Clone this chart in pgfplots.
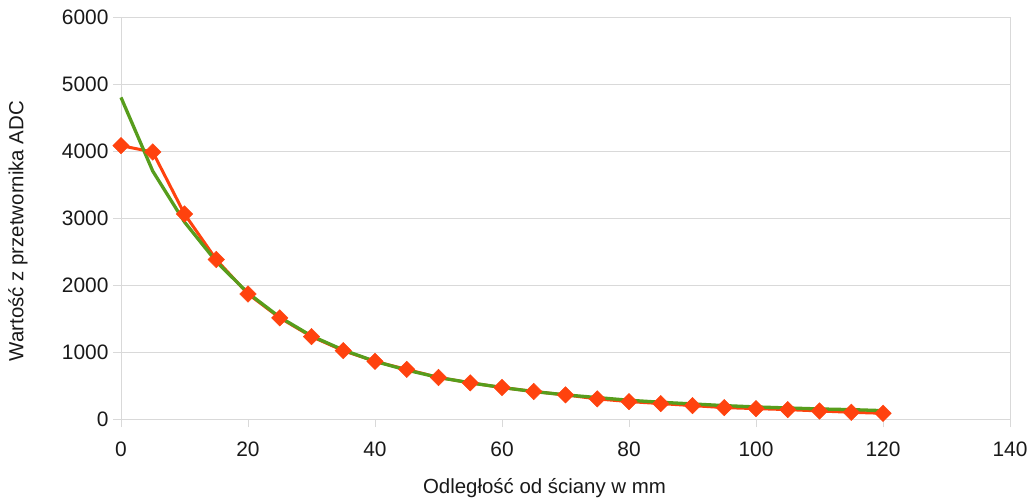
\documentclass[border=0pt]{standalone}
\usepackage{fontspec}
\setmainfont{Liberation Sans}
\usepackage{pgfplots}
\pgfplotsset{compat=1.18}
\definecolor{sorange}{HTML}{FF420E}
\definecolor{sgreen}{HTML}{579D1C}
\definecolor{gridgray}{HTML}{D9D9D9}
\begin{document}
\begin{tikzpicture}
\begin{axis}[
  scale only axis,
  width=889bp, height=402bp,
  xmin=0, xmax=140, ymin=0, ymax=6000,
  xtick={0,20,...,140}, ytick={0,1000,...,6000},
  tick pos=left,
  /pgf/number format/assume math mode=true,
  /pgf/number format/1000 sep={},
  tick label style={font=\fontsize{21}{24}\selectfont, text=black!90},
  xticklabel style={yshift=-11bp},
  yticklabel style={xshift=-1bp},
  tick align=outside,
  major tick length=8bp,
  tick style={gridgray, line width=1pt},
  axis line style={gridgray, line width=1pt},
  ymajorgrids, grid style={gridgray, line width=1pt},
  xlabel={Odległość od ściany w mm},
  ylabel={Wartość z przetwornika ADC},
  label style={font=\fontsize{20.5}{24}\selectfont, text=black!90},
  xlabel style={at={(axis description cs:0.5,0)}, anchor=center, yshift=-69bp, xshift=-21bp},
  ylabel style={at={(axis description cs:0,0.5)}, anchor=center, xshift=-13bp, yshift=103bp},
  clip=false,
]
\addplot[color=sorange, line width=3bp, mark=square*, mark size=5.8bp,
  mark options={rotate=45, fill=sorange, draw=sorange, line width=0.5bp}]
coordinates {
(0,4080) (5,3985) (10,3060) (15,2380) (20,1866) (25,1510) (30,1230)
(35,1020) (40,860) (45,740) (50,620) (55,540) (60,470) (65,410)
(70,360) (75,300) (80,260) (85,230) (90,200) (95,170) (100,155)
(105,140) (110,120) (115,100) (120,85)
};
\addplot[color=sgreen, line width=3.3bp, no marks]
coordinates {
(0,4800) (5,3700) (10,2940) (15,2350) (20,1880) (25,1520) (30,1240)
(35,1030) (40,860) (45,730) (50,620) (55,540) (60,470) (65,410)
(70,360) (75,320) (80,280) (85,250) (90,225) (95,200) (100,180)
(105,165) (110,150) (115,140) (120,125)
};
\end{axis}
\pgfresetboundingbox
\path[use as bounding box] (-121bp,-83bp) rectangle (913bp,419bp);
\end{tikzpicture}
\end{document}
